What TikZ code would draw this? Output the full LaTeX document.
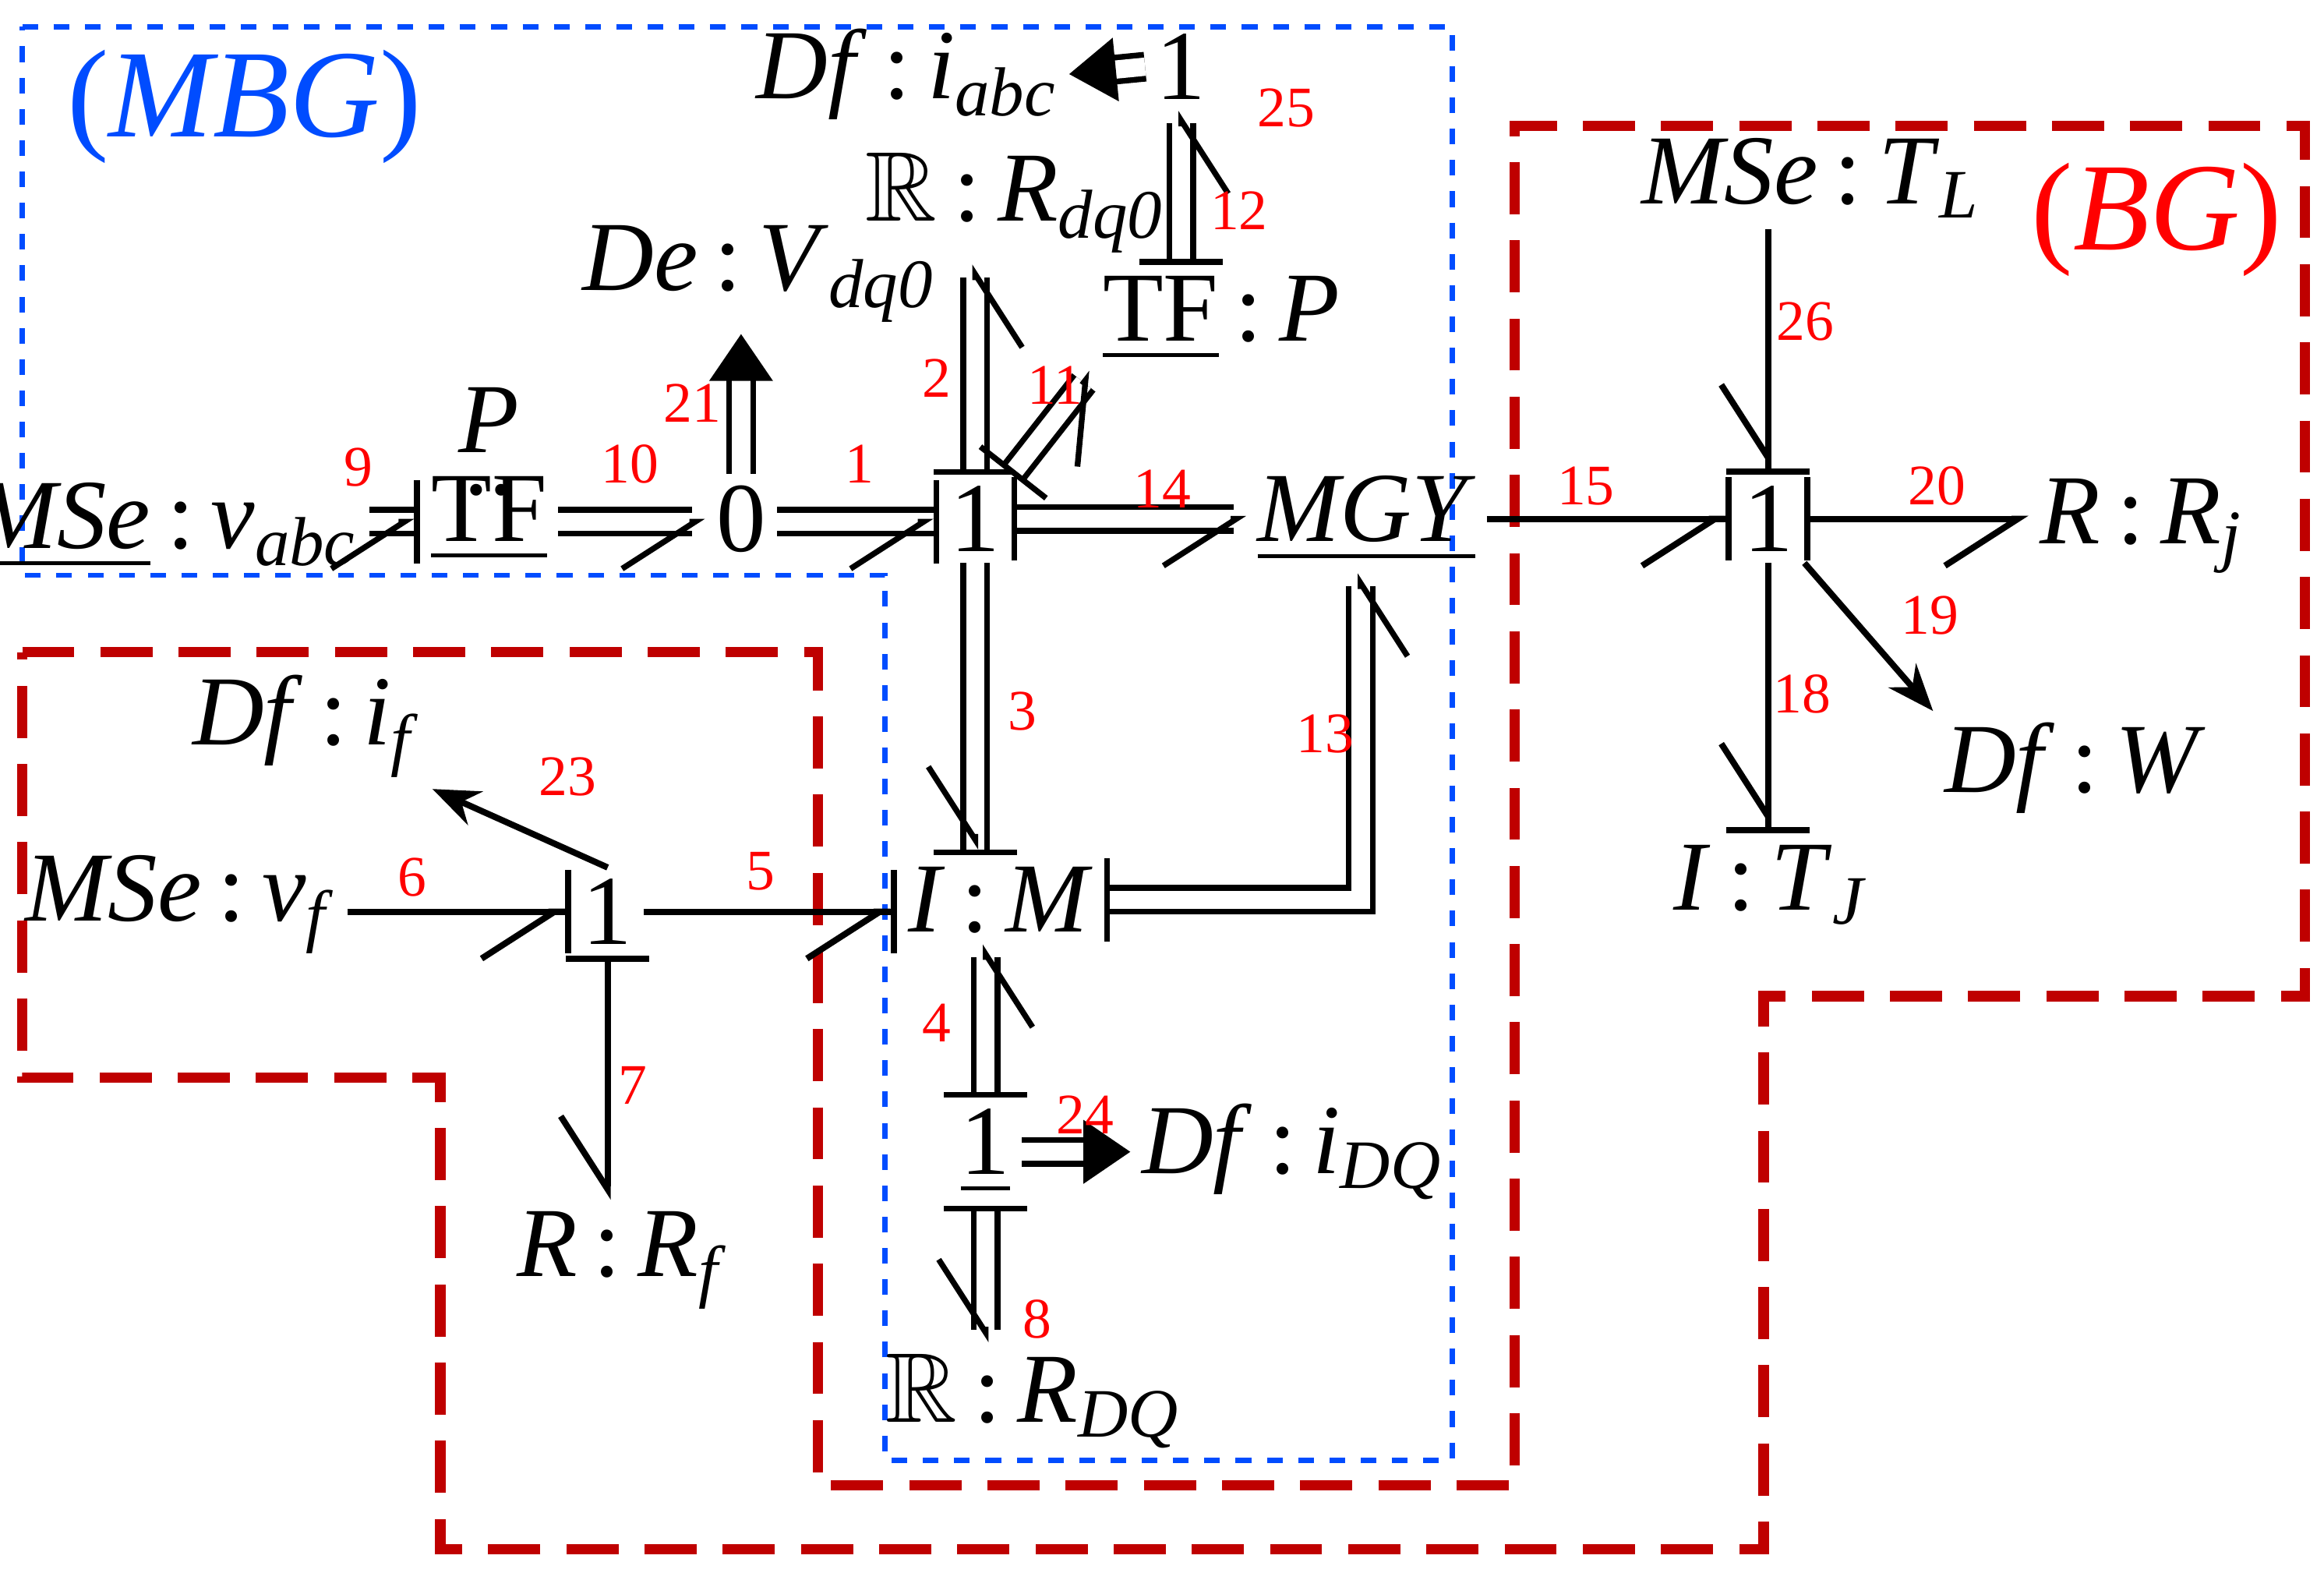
\documentclass[tikz,border=0pt]{standalone}
\usepackage{amsmath,amssymb}
\usepackage{fontspec}
\setmainfont{Liberation Serif}
\usetikzlibrary{arrows.meta}
\newcommand{\ti}[1]{\textit{#1}}
\newcommand{\sbs}[1]{\textsubscript{\textit{#1}}}
\newcommand{\cln}{\,:\,}
\begin{document}
\begin{tikzpicture}[x=0.01cm,y=-0.01cm,
  lab/.style={font=\fontsize{19}{22}\selectfont,inner sep=2pt},
  num/.style={font=\fontsize{11}{13}\selectfont,text=red},
  sb/.style={line width=1.2pt},
  mb/.style={line width=1.1pt,double distance=3.5pt},
  hp/.style={-{Straight Barb[right,length=14pt,width=18pt]}},
  hps/.style={-{Straight Barb[right,length=14pt,width=18pt]Bar[width=16pt,sep=0pt]}},
  sh/.style={{Bar[width=16pt]}-{Straight Barb[right,length=14pt,width=18pt]}},
  fa/.style={-{Triangle[length=9pt,width=12pt]}},
  na/.style={-{Stealth[length=9pt,width=7pt]}}]
\useasboundingbox (0,0) rectangle (1568,1061);
% regions
\draw[blue!70!cyan,dashed,line width=1pt] (15,18)--(980,18)--(980,985)--(597,985)--(597,388)--(15,388)--cycle;
\draw[red!75!black,line width=2pt,dash pattern=on 10pt off 5pt] (15,440)--(552,440)--(552,1002)--(1022,1002)--(1022,85)--(1555,85)--(1555,672)--(1190,672)--(1190,1045)--(297,1045)--(297,727)--(15,727)--cycle;
\node[font=\fontsize{24}{26}\selectfont,text=blue!70!cyan] (mbg) at (165,72) {(\ti{MBG})};
\node[font=\fontsize{24}{26}\selectfont,text=red] (bgl) at (1455,148) {(\ti{BG})};
% nodes
\node[lab] (mseabc) at (112,355) {\underline{\ti{MSe}}\cln\ti{v}\sbs{abc}};
\node[lab] (tf1) at (330,350) {\underline{TF}};
\node[lab,align=center,inner sep=0pt] (tfp) at (330,298) {\ti{P}\\[-14pt]..};
\node[lab] (z0) at (500,350) {0};
\node[lab] (j1) at (658,350) {1};
\node[lab] (mgy) at (922,350) {\underline{\ti{MGY}}};
\node[lab] (j2) at (1193,350) {1};
\node[lab] (rrj) at (1445,355) {\ti{R}\cln\ti{R}\sbs{j}};
\node[lab] (mtl) at (1222,120) {\ti{MSe}\cln\ti{T}\sbs{L}};
\node[lab] (dfw) at (1400,518) {\ti{Df}\cln\ti{W}};
\node[lab] (itj) at (1195,597) {\ti{I}\cln\ti{T}\sbs{J}};
\node[lab] (dev) at (512,185) {\ti{De}\cln\ti{V}\sbs{dq0}};
\node[lab] (rdq0) at (685,137) {$\mathbb{R}$\cln\ti{R}\sbs{dq0}};
\node[lab] (tfP) at (824,215) {\underline{TF}\cln\ti{P}};
\node[lab] (j3) at (797,45) {1};
\node[lab] (dfiabc) at (612,50) {\ti{Df}\cln\ti{i}\sbs{abc}};
\node[lab] (dfif) at (207,490) {\ti{Df}\cln\ti{i}\sbs{f}};
\node[lab] (msevf) at (122,610) {\ti{MSe}\cln\ti{v}\sbs{f}};
\node[lab] (j4) at (410,615) {1};
\node[lab] (rrf) at (420,850) {\ti{R}\cln\ti{R}\sbs{f}};
\node[lab] (im) at (675,607) {\ti{I}\cln\ti{M}};
\node[lab] (j5) at (665,777) {\underline{1}};
\node[lab] (dfidq) at (872,777) {\ti{Df}\cln\ti{i}\sbs{DQ}};
\node[lab] (rdq) at (697,945) {$\mathbb{R}$\cln\ti{R}\sbs{DQ}};
% bonds
\draw[mb,hps] (mseabc.east|-0,352) -- (tf1.west|-0,352);
\draw[mb,hp] (tf1.east|-0,352) -- (z0.west|-0,352);
\draw[mb,hps] (z0.east|-0,352) -- (j1.west|-0,352);
\draw[mb,fa] (z0.north) -- (dev.south-|z0.north);
\draw[mb,sh] (j1.north) -- (rdq0.south-|j1.north);
\draw[mb,sh] (j1.north east) -- (tfP.south west);
\draw[mb,sh] (tfP.north west-|j3) -- (j3.south);
\draw[mb,fa] (j3.west) -- (dfiabc.east);
\draw[mb,sh] (j1.east) -- (mgy.west);
\draw[mb,hps] (j1.south) -- (im.north-|j1);
\draw[mb,sh] (im.east) -- (918,607) -- (mgy.south-|918,0);
\draw[sb,hps] (mgy.east) -- (j2.west);
\draw[sb,sh] (j2.east) -- (rrj.west|-j2);
\draw[sb,hps] (mtl.south-|j2) -- (j2.north);
\draw[sb,hps] (j2.south) -- (itj.north-|j2);
\draw[sb,na] (j2.south east) -- (dfw.north west);
\draw[sb,hps] (msevf.east|-j4) -- (j4.west);
\draw[sb,hps] (j4.east) -- (im.west|-j4);
\draw[sb,na] (j4.north) -- (dfif.south east);
\draw[sb,sh] (j4.south) -- (rrf.north-|j4);
\draw[mb,sh] (j5.north) -- (im.south-|j5);
\draw[mb,fa] (j5.east) -- (dfidq.west);
\draw[mb,sh] (j5.south) -- (rdq.north-|j5);
% labels
\node[num] at (242,315) {9};
\node[num] at (425,313) {10};
\node[num] at (580,313) {1};
\node[num] at (467,272) {21};
\node[num] at (632,255) {2};
\node[num] at (712,260) {11};
\node[num] at (836,142) {12};
\node[num] at (868,73) {25};
\node[num] at (784,330) {14};
\node[num] at (690,480) {3};
\node[num] at (894,495) {13};
\node[num] at (1070,328) {15};
\node[num] at (1307,328) {20};
\node[num] at (1218,217) {26};
\node[num] at (1216,468) {18};
\node[num] at (1302,415) {19};
\node[num] at (278,592) {6};
\node[num] at (513,588) {5};
\node[num] at (383,524) {23};
\node[num] at (427,732) {7};
\node[num] at (632,690) {4};
\node[num] at (732,752) {24};
\node[num] at (700,890) {8};
\end{tikzpicture}
\end{document}
